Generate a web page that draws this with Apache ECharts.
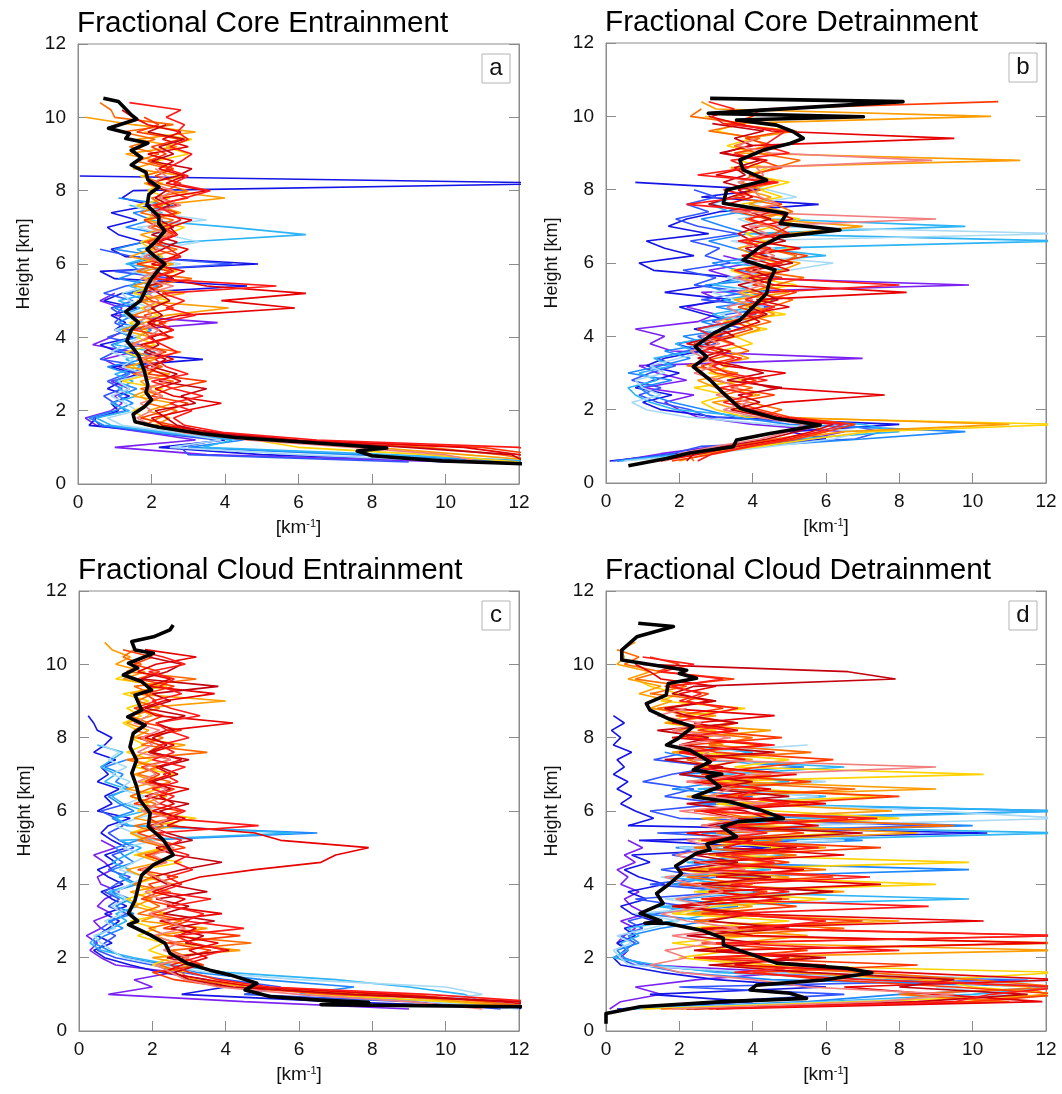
<!DOCTYPE html>
<html><head><meta charset="utf-8">
<script src="https://cdn.jsdelivr.net/npm/echarts/dist/echarts.min.js"></script>
<style>html,body{margin:0;padding:0;background:#fff}#c{width:1062px;height:1094px}</style>
</head><body><div id="c"></div>
<script>
const _ = null;
// shared height levels [km]
const H = [0.4,0.6,0.8,1.0,1.2,1.4,1.6,1.8,2.0,2.2,2.4,
 2.6,2.8,3.0,3.2,3.4,3.6,3.8,4.0,4.2,4.4,4.6,
 4.8,5.0,5.2,5.4,5.6,5.8,6.0,6.2,6.4,6.6,6.8,
 7.0,7.2,7.4,7.6,7.8,8.0,8.2,8.4,8.6,8.8,9.0,
 9.2,9.4,9.6,9.8,10.0,10.2,10.4,10.6,10.8,11.0,11.2];

const colors = ['#7b22f2','#1414e6','#3355ff','#1e88ff','#2db4f5','#a8daf4','#ffd200','#ff9c00','#ff6a00','#ff3a00','#e60000','#c4000e','#f27f7f','#ff1a1a'];

const titles = ['Fractional Core Entrainment','Fractional Core Detrainment','Fractional Cloud Entrainment','Fractional Cloud Detrainment'];
const letters = ['a','b','c','d'];
const xTicks = [0,2,4,6,8,10,12];

// ---------- panel a : core entrainment ----------
const a1=[_,10.2,3.5,1.0,3.2,1.9,0.5,0.2,0.9,1.2,1.0, 1.4,0.9,1.7,1.1,0.7,1.5,0.4,0.9,1.3,3.8,1.0, 1.2,0.6,1.0,_,_,_,_,_,_,_,_, _,_,_,_,_,_,_,_,_,_,_, _,_,_,_,_,_,_,_,_,_,_];
const a2=[_,11.5,5.0,2.2,4.0,2.4,0.3,0.5,1.1,0.9,1.4, 0.8,1.2,1.6,0.9,3.4,1.1,0.6,1.5,1.0,1.3,0.9, 1.6,0.7,1.2,4.6,1.0,0.6,4.9,1.3,0.9,1.8,1.1, 0.8,1.6,0.9,2.0,1.2,1.5,13.5,0.05,_,_,_, _,_,_,_,_,_,_,_,_,_,_];
const a3=[_,9.0,3.0,2.8,3.8,2.0,0.6,0.4,1.3,1.0,0.7, 1.2,0.8,1.3,1.9,0.6,1.0,1.7,0.8,1.4,1.0,1.2, 0.9,1.5,0.7,1.3,2.6,1.0,4.2,1.5,0.6,_,_, _,_,_,_,_,_,_,_,_,_,_, _,_,_,_,_,_,_,_,_,_,_];
const a4=[_,12.5,7.5,3.0,4.5,2.6,0.7,0.3,1.0,1.5,1.1, 1.6,1.0,1.4,0.8,1.8,1.2,0.9,1.6,2.0,1.1,1.5, 1.0,1.9,1.3,2.2,1.1,1.7,1.4,2.3,1.0,1.8,2.4, 1.3,2.0,1.5,2.6,1.1,_,_,_,_,_,_, _,_,_,_,_,_,_,_,_,_,_];
const a5=[_,13.0,8.5,3.4,4.2,2.3,0.9,0.5,1.4,0.9,1.6, 1.1,1.5,1.0,1.7,1.3,2.1,1.0,1.4,1.1,1.8,1.2, 1.7,1.1,2.0,1.4,1.8,2.6,1.3,2.0,1.6,2.9,6.2, 4.2,1.8,2.3,1.4,_,_,_,_,_,_,_, _,_,_,_,_,_,_,_,_,_,_];
const a6=[_,10.8,6.0,2.5,3.9,2.7,1.2,0.8,1.6,1.3,0.9, 1.4,1.1,1.8,1.2,1.5,0.9,1.3,1.7,1.0,1.6,1.3, 2.0,1.4,1.2,1.9,2.2,1.5,2.8,1.7,2.1,3.3,2.4, 1.6,3.5,2.0,1.5,_,_,_,_,_,_,_, _,_,_,_,_,_,_,_,_,_,_];
const a7=[_,12.0,9.5,6.0,4.8,3.0,2.4,1.8,1.5,2.0,1.7, 2.3,1.2,2.0,1.5,1.8,1.3,2.1,1.6,1.9,1.4,2.2, 1.7,2.5,1.5,2.0,1.8,2.7,1.6,2.3,2.0,1.7,2.4, 2.9,1.8,2.2,1.6,2.5,1.9,2.3,1.7,2.6,2.1,3.0, 2.4,3.1,1.8,_,_,_,_,_,_,_,_];
const a8=[_,13.0,10.5,8.0,5.2,3.3,2.1,2.5,1.9,2.6,1.5, 2.0,1.7,2.5,1.3,2.1,1.6,1.4,2.0,1.2,1.8,2.4, 4.1,1.6,2.9,1.5,2.2,1.8,2.6,1.4,2.0,2.3,1.7, 2.5,1.9,2.8,2.1,4.0,2.4,1.8,2.9,1.5,2.2,1.3, 2.7,1.6,3.2,1.5,0.2,_,_,_,_,_,_];
const a9=[_,12.8,11.5,9.5,5.0,3.0,1.8,2.2,2.7,1.9,2.3, 1.7,2.6,1.5,2.3,1.8,2.8,1.4,2.0,1.7,2.4,1.5, 2.1,1.7,2.4,1.9,3.1,1.6,2.2,2.0,2.7,1.8,2.5, 2.0,2.6,1.7,2.3,2.0,3.0,2.2,1.8,2.5,1.6,2.2, 1.4,2.1,1.2,2.6,1.0,0.9,0.6,_,_,_,_];
const a10=[_,13.0,12.5,11.0,5.5,3.4,2.6,1.7,2.4,3.0,2.0, 2.5,3.5,1.9,2.2,1.6,2.4,1.8,2.6,1.5,2.1,1.8, 2.6,2.0,1.7,2.3,1.9,2.5,1.6,2.8,2.1,1.9,2.6, 2.2,1.8,2.7,2.0,3.0,2.4,2.8,2.1,2.6,1.9,2.4, 2.0,2.8,1.6,2.2,1.8,_,_,_,_,_,_];
const a11=[_,13.5,12.0,10.5,6.0,3.8,2.3,2.0,2.9,3.9,2.6, 2.1,2.8,2.3,1.8,2.6,2.0,1.7,2.5,2.2,1.9,2.8, 5.9,3.9,6.2,3.5,2.4,2.9,2.0,2.6,3.0,2.2,2.7, 2.5,3.1,2.0,2.7,2.3,3.5,2.4,2.9,2.2,2.6,1.9, 3.0,2.3,2.8,1.9,1.5,1.2,_,_,_,_,_];
const a12=[_,12.2,11.8,9.0,5.8,3.6,2.7,2.4,2.1,3.2,2.8, 3.5,2.2,2.7,2.0,2.4,1.8,2.2,2.0,2.6,1.9,2.3, 2.0,2.5,2.2,1.9,2.6,2.1,2.4,1.8,2.3,2.7,2.0, 2.6,2.2,2.0,2.5,2.1,2.4,1.9,2.7,3.1,2.0,2.6, 2.2,2.9,1.9,2.4,_,_,_,_,_,_,_];
const a13=[_,11.0,10.0,7.5,4.6,2.9,2.0,1.6,2.0,1.7,2.3, 1.9,2.4,1.6,2.1,1.7,2.3,1.5,1.9,2.2,1.6,2.0, 1.8,2.2,1.9,2.6,1.7,2.1,2.4,1.8,2.2,2.0,2.5, 1.9,2.3,2.0,2.8,2.2,2.6,2.0,2.4,2.1,_,_, _,_,_,_,_,_,_,_,_,_,_];
const a14=[_,13.5,12.8,12.0,6.5,4.0,2.9,2.6,3.1,2.5,3.4, 2.6,2.0,3.0,2.4,2.1,2.7,2.3,1.9,2.6,2.2,3.2, 2.4,2.9,2.3,5.4,2.0,2.6,2.2,2.8,2.5,2.1,2.7, 2.3,2.8,2.5,2.1,2.9,3.6,2.6,3.0,2.4,2.8,3.1, 2.5,3.0,2.7,2.9,2.4,2.8,1.4,_,_,_,_];
const aMean=[[12.2,0.55],[9.9,0.63],[8.0,0.77],[7.6,0.9],[8.4,0.98],[6.2,1.14],[4.3,1.27],[3.4,1.37],[2.2,1.55],[1.55,1.7],[1.5,1.9],[1.8,2.1],[2.0,2.3],[1.85,2.5],[1.9,2.7],[1.8,3.1],[1.65,3.5],[1.5,3.7],[1.33,3.9],[1.45,4.2],[1.65,4.4],[1.3,4.7],[1.5,4.85],[1.7,5.0],[1.8,5.2],[1.88,5.4],[2.0,5.6],[2.2,5.85],[2.36,6.0],[2.1,6.2],[1.88,6.4],[2.1,6.6],[2.36,6.9],[2.2,7.1],[2.2,7.3],[1.88,7.6],[1.93,7.9],[2.2,8.1],[1.9,8.3],[1.85,8.5],[1.45,8.7],[1.73,8.9],[1.45,9.1],[1.9,9.3],[1.3,9.42],[1.4,9.56],[0.83,9.7],[1.6,9.95],[1.46,10.06],[1.1,10.43],[0.69,10.52]];

// ---------- panel b : core detrainment ----------
const b1=[_,0.3,1.5,3.0,5.5,6.5,4.0,2.5,2.0,1.6,2.4, 1.0,2.2,1.4,0.9,7.0,1.8,1.2,1.6,0.8,2.5,3.0, 2.2,3.1,2.6,9.9,3.5,2.8,4.0,3.2,_,_,_, _,_,_,_,_,_,_,_,_,_,_, _,_,_,_,_,_,_,_,_,_,_];
const b2=[_,0.1,2.0,3.5,6.0,5.0,8.0,3.0,1.5,1.0,1.8, 0.8,1.3,2.0,1.1,1.6,2.6,1.9,3.2,2.4,3.5,2.7, 2.0,3.4,1.6,2.9,3.6,1.3,0.9,2.4,1.6,1.1,2.8, 1.7,2.2,3.1,5.8,2.6,4.3,0.8,_,_,_,_, _,_,_,_,_,_,_,_,_,_,_];
const b3=[_,0.2,1.8,2.6,6.8,7.5,6.5,2.8,2.3,1.4,0.9, 1.5,0.7,1.2,1.9,1.4,2.2,3.0,2.5,3.8,2.9,3.3, 4.5,2.6,3.9,2.4,3.0,2.1,3.4,2.7,3.1,2.3,3.6, 2.5,1.9,2.8,2.2,3.0,2.4,_,_,_,_,_, _,_,_,_,_,_,_,_,_,_,_];
const b4=[_,0.3,2.5,4.0,7.0,9.8,5.0,3.5,2.7,1.8,1.2, 0.9,1.8,0.6,1.5,2.3,1.6,2.8,2.1,3.4,2.6,4.1, 3.0,4.6,3.3,2.7,4.8,3.6,2.9,4.4,3.5,2.8,3.9, 3.2,2.6,3.7,2.9,_,_,_,_,_,_,_, _,_,_,_,_,_,_,_,_,_,_];
const b5=[_,0.4,2.2,3.2,5.2,8.0,7.0,4.0,1.9,1.2,0.8, 0.6,1.4,0.9,1.8,1.3,2.4,1.9,3.0,2.5,3.6,2.9, 4.0,3.2,4.5,2.9,3.8,4.9,3.4,6.0,4.2,12.5,3.8, 9.8,4.5,3.4,2.8,3.6,_,_,_,_,_,_, _,_,_,_,_,_,_,_,_,_,_];
const b6=[_,0.5,2.8,4.5,6.2,7.0,4.5,2.2,1.1,0.7,1.5, 1.0,0.8,1.6,1.2,2.0,2.8,2.2,3.3,2.7,3.9,3.1, 4.3,3.5,2.9,4.1,3.3,5.0,6.2,3.8,4.6,3.4,12.5, 4.2,3.6,4.8,3.9,5.2,4.4,3.6,4.0,_,_,_, _,_,_,_,_,_,_,_,_,_,_];
const b7=[_,1.2,2.5,4.2,5.6,7.2,12.5,3.8,3.0,2.6,3.3, 2.4,3.8,2.8,3.4,2.6,3.1,4.0,3.5,4.4,3.2,4.9, 3.8,4.5,3.6,5.2,4.0,3.4,4.7,3.9,5.1,4.3,3.8, 4.6,5.3,4.1,3.7,4.8,4.2,5.0,3.9,4.4,3.6,4.1, 3.3,4.0,3.0,3.6,2.7,_,_,_,_,_,_];
const b8=[_,2.0,2.8,3.8,5.0,6.5,11.0,4.5,3.6,2.9,4.2, 3.0,2.5,3.5,2.8,3.9,3.3,2.7,3.6,4.2,3.8,4.6, 4.1,3.5,5.0,4.3,3.7,4.8,5.3,4.1,3.6,4.4,5.0, 7.0,4.3,4.9,3.9,4.5,3.8,4.7,4.1,3.4,11.3,3.6, 4.4,3.9,5.2,3.2,10.5,3.0,2.6,_,_,_,_];
const b9=[_,2.4,2.2,3.4,4.6,6.0,5.5,4.2,4.8,3.9,3.2, 4.0,2.9,3.6,2.2,3.0,3.9,3.4,2.8,3.7,4.5,3.8, 4.5,5.1,3.9,4.6,5.4,4.0,4.8,5.2,4.3,3.8,4.9, 4.4,3.8,5.1,4.6,3.5,4.2,3.7,4.0,4.6,5.3,4.1, 3.5,4.2,2.8,3.8,2.3,2.6,_,_,_,_,_];
const b10=[_,1.8,3.0,4.0,5.2,6.0,6.8,5.0,4.2,3.5,4.6, 3.4,4.1,3.0,2.6,3.5,3.0,2.4,3.3,4.0,3.5,4.3, 3.6,4.4,5.2,4.0,4.8,3.8,4.6,5.5,4.2,3.9,4.6, 5.0,4.4,3.6,4.8,4.1,3.2,4.4,3.9,4.8,4.2,3.5, 4.6,3.8,4.9,3.4,4.0,4.2,10.7,_,_,_,_];
const b11=[_,1.5,2.6,3.6,4.8,5.6,6.2,4.6,3.9,4.8,7.6, 4.5,3.7,4.9,3.2,2.8,3.4,2.2,3.0,3.6,4.2,3.8, 5.0,4.1,8.2,4.6,3.9,5.0,4.4,3.7,5.3,4.0,3.6, 4.2,5.1,4.6,3.3,4.0,3.6,4.5,3.0,3.8,4.4,3.2, 3.9,9.5,4.5,3.6,2.8,_,_,_,_,_,_];
const b12=[_,2.2,2.4,3.2,4.4,5.2,5.8,4.4,3.4,4.2,3.6, 4.8,3.3,4.3,3.6,2.5,3.2,2.7,3.5,3.1,3.8,4.4, 3.9,4.7,4.2,3.6,4.5,4.0,5.1,4.3,3.8,4.9,4.2, 3.7,4.5,3.9,2.8,3.4,4.0,3.2,3.8,3.5,4.2,3.1, 4.0,3.5,4.3,2.9,_,_,_,_,_,_,_];
const b13=[_,1.6,2.0,3.0,4.2,5.0,5.4,4.1,3.2,3.9,3.0, 3.6,3.1,2.4,3.0,2.7,2.3,3.1,2.6,3.3,3.0,3.7, 3.3,4.0,3.6,4.3,3.5,4.2,3.9,4.6,4.1,3.7,4.4, 3.9,9.0,3.4,4.7,4.2,4.0,3.6,4.3,4.1,8.9,4.5, 3.6,4.1,_,_,_,_,_,_,_,_,_];
const b14=[_,2.5,2.9,3.9,5.0,5.8,6.5,4.8,4.0,3.2,4.0, 3.1,4.4,3.3,2.9,3.7,2.6,3.5,2.9,2.5,3.4,4.0, 4.6,3.8,4.4,8.0,4.2,3.5,4.8,4.0,4.5,3.6,5.0, 4.6,3.9,4.5,2.2,3.8,3.3,4.7,2.5,3.9,3.4,5.0, 4.3,4.6,4.9,3.2,2.9,3.5,2.8,_,_,_,_];
const bMean=[[0.61,0.47],[1.65,0.67],[2.29,0.82],[3.47,0.99],[3.56,1.17],[4.47,1.35],[5.84,1.58],[4.65,1.76],[3.65,2.04],[3.2,2.45],[2.84,2.81],[2.6,3.0],[2.38,3.17],[2.75,3.44],[2.43,3.72],[2.93,4.08],[3.65,4.44],[4.02,4.81],[4.38,5.17],[4.47,5.54],[4.61,5.81],[3.74,6.08],[4.2,6.44],[4.75,6.72],[6.38,6.9],[4.75,7.08],[4.93,7.35],[3.2,7.63],[3.29,7.99],[4.38,8.26],[3.74,8.54],[3.65,8.81],[4.29,9.08],[5.02,9.26],[5.38,9.4],[5.11,9.58],[4.65,9.76],[3.56,9.9],[7.02,9.99],[2.79,10.08],[8.1,10.4],[2.84,10.49]];

// ---------- panel c : cloud entrainment ----------
const c1=[_,9.0,4.5,0.8,2.0,1.5,2.6,1.0,0.6,0.3,0.5, 0.2,0.6,0.4,0.9,0.5,0.7,1.1,0.6,0.5,0.9,0.7, 0.4,1.0,0.6,_,_,_,_,_,_,_,_, _,_,_,_,_,_,_,_,_,_,_, _,_,_,_,_,_,_,_,_,_,_];
const c2=[_,12.5,7.0,2.8,4.0,3.5,2.2,1.4,0.7,0.4,0.9, 0.5,0.8,1.1,0.7,1.3,0.9,0.6,1.2,0.8,0.5,1.0, 0.7,1.3,0.9,0.6,0.8,1.4,0.5,0.9,0.7,1.1,0.5, 0.8,0.6,1.0,0.4,0.7,0.9,0.5,0.4,0.25,_,_, _,_,_,_,_,_,_,_,_,_,_];
const c3=[_,11.5,9.0,4.5,5.5,4.0,2.8,2.0,1.0,0.5,0.7, 1.0,0.6,0.9,1.3,0.8,1.1,0.7,1.0,1.4,0.8,1.2, 0.9,1.5,1.1,0.8,1.2,1.0,0.6,1.3,_,_,_, _,_,_,_,_,_,_,_,_,_,_, _,_,_,_,_,_,_,_,_,_,_];
const c4=[_,13.0,10.0,6.0,7.5,5.0,3.2,2.4,1.3,0.8,0.4, 0.7,1.2,0.8,1.5,1.0,1.4,0.9,1.6,1.2,0.9,1.5, 1.2,1.0,1.6,6.5,1.3,0.9,1.5,1.1,0.8,1.4,1.0, 1.2,0.7,1.3,_,_,_,_,_,_,_,_, _,_,_,_,_,_,_,_,_,_,_];
const c5=[_,13.0,11.0,10.5,9.0,7.0,4.0,2.6,1.5,0.6,0.3, 0.5,0.9,1.3,1.0,1.6,1.2,0.8,1.5,1.1,1.4,0.9, 1.3,1.7,1.1,5.9,1.4,1.0,1.8,1.2,0.9,1.3,0.7, 1.0,0.6,0.9,1.2,0.5,_,_,_,_,_,_, _,_,_,_,_,_,_,_,_,_,_];
const c6=[_,12.0,9.5,11.0,10.0,6.0,3.5,2.2,1.2,0.9,0.6, 0.4,1.0,0.7,1.2,0.9,1.3,1.0,1.4,1.8,1.1,1.5, 1.9,1.2,2.1,1.5,1.0,1.6,2.3,1.3,1.8,1.1,1.4, 0.9,1.3,0.8,1.1,0.6,_,_,_,_,_,_, _,_,_,_,_,_,_,_,_,_,_];
const c7=[_,13.0,10.0,6.5,5.0,3.8,3.0,2.0,2.5,1.9,2.3, 1.6,2.1,1.4,2.4,1.8,1.3,2.0,1.5,2.2,1.7,2.8, 1.5,2.3,1.8,1.4,2.0,3.2,1.6,1.9,1.4,2.2,1.7, 2.6,1.5,2.0,1.3,1.8,1.4,1.6,1.2,1.7,1.3,1.9, 1.2,2.4,1.0,1.5,_,_,_,_,_,_,_];
const c8=[_,12.8,10.5,8.0,4.5,3.2,2.4,3.0,2.0,4.4,2.6, 2.1,3.5,1.7,2.3,1.5,2.0,1.4,2.6,1.8,1.3,2.2, 1.6,2.5,1.9,1.4,2.7,1.5,2.0,1.7,2.4,1.3,2.1, 1.5,2.3,1.4,1.8,2.9,1.5,1.9,1.3,2.0,1.6,4.0, 1.4,2.2,1.2,1.8,1.0,1.4,0.9,0.7,_,_,_];
const c9=[_,13.0,11.0,9.0,5.0,3.0,2.8,2.2,3.0,2.5,4.7, 2.4,1.9,2.8,1.6,2.2,1.8,2.5,1.5,2.0,1.7,2.3, 1.9,2.4,1.6,2.2,1.5,2.6,1.8,2.1,1.4,1.9,2.5, 1.6,2.1,1.3,3.5,1.7,2.3,1.5,1.9,1.4,2.2,1.6, 2.0,1.5,3.2,1.3,1.7,1.2,1.5,_,_,_,_];
const c10=[_,13.5,12.0,7.0,4.0,2.6,2.0,3.4,2.8,3.6,2.4, 4.4,2.3,3.0,2.0,2.6,1.7,2.2,1.9,2.7,1.6,2.4, 1.8,2.9,2.2,1.6,2.3,1.9,2.8,1.5,2.1,2.6,1.8, 2.2,1.7,2.5,1.9,2.2,1.6,2.8,1.8,2.3,1.5,2.1, 1.8,2.6,1.6,2.2,1.5,2.0,1.2,_,_,_,_];
const c11=[_,13.5,11.5,8.5,4.8,3.5,2.3,2.8,3.5,3.0,3.8, 2.7,3.2,2.2,3.9,2.4,2.9,2.0,2.6,3.3,4.8,6.6, 7.0,7.9,5.5,4.8,2.4,2.9,2.0,2.6,2.2,3.0,1.9, 2.5,2.1,2.8,2.0,2.6,1.8,2.4,4.2,2.1,1.7,2.3, 3.7,1.9,2.5,1.6,2.1,3.2,1.8,_,_,_,_];
const c12=[_,12.5,12.0,7.5,4.2,3.0,2.6,3.3,2.4,4.1,2.9, 3.4,2.5,3.7,2.3,3.0,2.1,3.5,2.4,2.0,2.8,3.9, 2.6,2.1,3.1,2.4,1.9,2.7,2.2,3.0,1.8,2.5,2.0, 2.7,2.2,3.0,1.9,2.4,2.0,2.6,2.1,2.9,1.8,2.5, 2.0,3.8,1.7,2.4,2.8,1.9,_,_,_,_,_];
const c13=[_,11.0,9.0,6.0,3.8,2.9,2.5,2.1,3.0,2.3,2.7, 2.0,2.9,2.4,1.9,2.6,2.2,1.8,2.5,2.1,1.7,2.4, 2.0,2.6,1.8,2.3,2.0,2.5,1.7,2.2,1.9,2.4,1.6, 2.1,1.8,2.5,1.6,2.0,1.7,2.2,1.5,1.9,_,_, _,_,_,_,_,_,_,_,_,_,_];
const c14=[_,13.5,12.5,9.5,5.2,3.8,3.0,2.5,3.2,4.0,3.1, 2.6,4.5,2.9,3.4,2.5,3.6,2.2,2.8,2.4,3.1,2.6, 3.0,2.3,2.8,2.1,4.9,2.4,2.9,2.2,2.6,2.0,2.7, 2.3,2.9,2.0,2.6,2.2,3.0,2.4,2.1,3.3,2.5,2.0, 2.8,2.2,2.6,1.9,2.9,2.3,1.5,_,_,_,_];
const cMean=[[12.2,0.66],[6.6,0.72],[7.9,0.78],[6.48,0.85],[5.21,0.94],[4.53,1.12],[4.85,1.3],[4.12,1.53],[3.57,1.66],[2.94,1.85],[2.48,2.12],[2.35,2.39],[1.94,2.62],[1.35,2.9],[1.6,3.0],[1.35,3.21],[1.53,3.57],[1.62,3.94],[1.71,4.25],[2.03,4.53],[2.57,4.8],[2.3,5.21],[1.89,5.57],[1.94,5.94],[1.66,6.3],[1.57,6.67],[1.44,7.03],[1.57,7.39],[1.39,7.75],[1.48,8.12],[1.8,8.34],[1.33,8.57],[1.71,8.75],[1.53,9.16],[1.98,9.3],[1.71,9.53],[1.21,9.71],[1.6,9.9],[1.35,10.03],[2.03,10.3],[1.53,10.39],[1.44,10.62],[2.03,10.75],[2.48,10.94],[2.57,11.07]];

// ---------- panel d : cloud detrainment ----------
const d1=[_,0.1,0.4,1.5,0.8,2.5,5.0,1.2,0.4,0.6,0.3, 0.5,0.8,0.4,1.1,0.7,0.5,0.9,0.4,0.6,0.3,0.8, 0.5,1.0,0.6,_,_,_,_,_,_,_,_, _,_,_,_,_,_,_,_,_,_,_, _,_,_,_,_,_,_,_,_,_,_];
const d2=[_,0.3,4.0,1.2,6.0,3.0,1.5,0.4,0.2,0.6,0.3, 0.8,0.5,1.3,0.7,0.4,1.1,0.6,1.6,0.9,0.5,1.2, 0.7,4.5,0.9,10.4,0.6,1.3,0.8,0.4,0.7,0.3,0.6, 0.2,0.5,0.3,0.7,0.2,0.4,0.15,0.5,0.2,_,_, _,_,_,_,_,_,_,_,_,_,_];
const d3=[_,0.4,3.0,6.5,2.0,11.5,3.5,0.8,0.3,0.5,0.8, 0.4,1.0,0.6,1.4,2.2,0.8,3.5,1.2,2.8,1.5,3.0, 1.8,2.5,5.2,1.4,9.0,2.0,1.2,3.2,1.6,2.4,1.0, 1.8,3.0,1.3,2.2,_,_,_,_,_,_,_, _,_,_,_,_,_,_,_,_,_,_];
const d4=[_,0.5,5.5,8.0,12.5,4.5,2.0,1.0,0.5,0.3,0.9, 0.6,1.5,2.8,1.0,3.6,2.0,4.2,1.8,3.0,9.9,2.4, 3.8,1.9,7.0,2.6,10.0,3.4,12.5,2.5,4.0,1.8,3.2, 2.0,5.4,2.6,1.6,_,_,_,_,_,_,_, _,_,_,_,_,_,_,_,_,_,_];
const d5=[_,0.6,6.0,10.0,12.5,7.5,3.0,1.4,0.2,0.6,0.4, 0.9,0.6,1.8,3.0,1.4,9.9,2.5,3.4,1.7,4.5,2.2, 5.0,2.8,4.2,12.5,3.0,5.5,12.5,3.6,6.0,2.5,5.0, 3.2,6.5,2.4,4.0,2.0,_,_,_,_,_,_, _,_,_,_,_,_,_,_,_,_,_];
const d6=[_,0.8,6.5,11.0,9.0,12.5,4.0,0.6,0.4,0.2,0.7, 0.3,1.2,2.0,0.8,3.2,1.6,4.0,2.4,1.5,3.6,2.8, 4.4,2.0,6.5,3.0,5.2,12.5,9.0,4.0,5.8,3.2,6.0, 2.8,4.4,3.6,2.5,5.5,_,_,_,_,_,_, _,_,_,_,_,_,_,_,_,_,_];
const d7=[_,1.0,7.0,12.5,10.0,9.0,12.5,4.0,2.0,3.5,1.8, 4.0,2.2,5.0,1.8,3.0,6.0,2.4,9.0,3.5,2.0,9.9, 3.0,4.8,2.5,6.5,3.4,8.0,4.6,3.0,7.5,4.0,2.6, 10.3,3.5,5.0,2.4,4.2,2.0,3.0,1.6,2.2,3.8,1.5, 2.0,1.2,0.8,_,_,_,_,_,_,_,_];
const d8=[_,2.0,9.8,12.0,11.5,8.5,5.0,4.5,2.5,12.5,3.5, 5.5,2.8,8.0,2.2,4.0,2.6,6.5,3.0,5.0,2.4,4.4, 2.8,6.0,3.5,8.5,4.2,2.6,7.8,3.8,2.2,9.0,3.4, 5.0,2.6,4.0,1.8,3.2,2.4,4.5,1.6,3.0,1.2,1.8, 0.9,1.5,0.6,1.2,0.3,0.5,0.4,0.8,_,_,_];
const d9=[_,1.5,11.0,8.0,12.5,10.0,7.0,3.0,5.5,2.5,12.5, 3.0,6.5,2.4,4.2,1.8,5.0,2.8,4.0,2.2,6.0,3.0, 5.2,2.4,4.8,3.0,9.5,4.0,2.8,5.5,3.2,6.8,2.6, 4.5,3.0,2.2,5.6,2.8,4.0,1.8,3.5,2.2,1.4,3.0, 1.2,2.2,0.8,1.5,0.5,0.9,0.3,_,_,_,_];
const d10=[_,2.4,10.0,12.5,9.5,6.0,4.0,8.5,3.0,5.5,2.6, 12.5,3.2,7.0,2.6,5.2,3.0,4.4,2.0,6.2,2.8,5.0, 3.4,7.5,2.8,5.4,3.6,6.6,2.4,4.6,8.0,3.0,5.6, 2.6,4.2,6.2,3.0,2.2,4.8,2.5,3.6,1.9,3.2,2.2, 2.8,1.6,3.5,1.4,2.0,1.2,_,_,_,_,_];
const d11=[_,3.0,11.9,9.0,6.5,12.5,8.0,3.5,5.0,3.0,12.0, 4.0,2.6,10.3,3.4,2.0,4.8,2.8,7.5,3.0,5.4,2.4, 6.5,3.2,4.0,2.2,5.8,3.6,2.6,6.0,3.0,4.5,2.2, 5.2,2.8,3.8,2.0,4.4,1.8,3.6,2.4,4.6,1.6,2.8, 2.0,3.0,1.5,1.2,0.8,_,_,_,_,_,_];
const d12=[_,2.2,8.5,11.5,8.0,9.5,5.5,2.8,6.0,2.4,4.2, 2.2,5.0,2.8,4.0,1.8,3.4,6.2,2.6,4.5,2.0,3.6, 2.4,5.2,3.0,7.0,2.6,4.4,3.8,2.2,5.0,2.8,4.0, 2.0,3.2,1.6,4.6,2.0,2.8,1.4,3.6,2.2,1.6,3.0, 1.8,2.4,7.9,6.6,1.0,_,_,_,_,_,_];
const d13=[_,1.8,7.5,9.5,5.5,4.0,2.0,1.2,2.2,1.6,3.0, 1.8,3.6,2.2,1.5,2.8,1.9,3.2,2.4,1.6,3.8,2.6, 1.9,3.0,2.2,4.2,2.6,3.6,2.0,4.4,2.8,3.4,2.2, 4.0,9.0,2.4,2.8,2.0,3.4,1.8,2.6,1.4,2.2,_, _,_,_,_,_,_,_,_,_,_,_];
const d14=[_,2.8,9.5,10.5,12.5,7.0,3.5,6.0,2.4,8.0,3.0, 12.5,4.0,6.0,3.2,8.8,2.6,5.0,3.4,7.2,2.8,4.6, 3.0,5.8,2.6,4.4,3.2,7.4,2.6,5.0,3.6,4.2,2.8, 3.8,2.4,3.0,2.0,4.6,2.2,3.4,1.8,2.6,3.6,2.0, 2.6,1.8,3.2,1.5,2.4,1.0,_,_,_,_,_];
const dMean=[[0,0.2],[0,0.48],[0.93,0.66],[3.2,0.8],[5.47,0.89],[5.02,1.03],[3.93,1.12],[4.1,1.25],[5.93,1.39],[7.25,1.59],[6.56,1.71],[4.65,1.85],[4.02,2.07],[3.2,2.35],[3.2,2.53],[2.6,2.75],[1.65,2.94],[1.06,2.94],[1.5,3.0],[0.93,3.21],[1.56,3.48],[1.38,3.75],[1.75,4.03],[2.06,4.3],[1.9,4.5],[2.47,4.85],[2.84,4.94],[2.75,5.1],[3.56,5.3],[3.16,5.57],[3.61,5.71],[4.84,5.8],[4.2,6.03],[3.38,6.25],[2.38,6.39],[3.11,6.66],[2.75,6.93],[3.16,7.0],[2.38,7.12],[2.84,7.34],[2.29,7.66],[1.65,7.8],[1.97,7.98],[2.38,8.3],[1.74,8.5],[1.2,8.75],[1.1,8.93],[1.64,9.16],[1.7,9.48],[2.47,9.62],[2.0,9.75],[2.2,9.84],[0.43,10.12],[0.43,10.39],[0.84,10.75],[1.84,11.03],[0.88,11.12]];

const panels = [
  {lines:[a1,a2,a3,a4,a5,a6,a7,a8,a9,a10,a11,a12,a13,a14], mean:aMean},
  {lines:[b1,b2,b3,b4,b5,b6,b7,b8,b9,b10,b11,b12,b13,b14], mean:bMean},
  {lines:[c1,c2,c3,c4,c5,c6,c7,c8,c9,c10,c11,c12,c13,c14], mean:cMean},
  {lines:[d1,d2,d3,d4,d5,d6,d7,d8,d9,d10,d11,d12,d13,d14], mean:dMean}
];
panels.forEach((p,pi)=>p.lines.forEach((l,li)=>{ if(l.length!==H.length) throw new Error('bad length panel '+pi+' line '+(li+1)+': '+l.length); }));

// ---------- layout / style ----------
const FONT = '"Liberation Sans", Arial, Helvetica, sans-serif';
const AX = '#8c8c8c';
const gridBoxes = [
  {left:78, top:44, width:441, height:440},
  {left:606, top:43, width:440, height:440},
  {left:79, top:591, width:440, height:440},
  {left:606, top:591, width:440, height:440}
];

const option = {
  animation:false,
  backgroundColor:'#fff',
  textStyle:{fontFamily:FONT},
  title: gridBoxes.map((g,i)=>({
    text:titles[i], left:g.left-1, top:g.top-35, padding:0,
    textStyle:{fontSize:29.7, fontWeight:'normal', color:'#000', fontFamily:FONT}
  })),
  grid: gridBoxes.map(g=>Object.assign({show:true, borderColor:AX, borderWidth:1, backgroundColor:'rgba(0,0,0,0)', containLabel:false}, g)),
  xAxis: gridBoxes.map((g,i)=>({
    gridIndex:i, type:'value', min:xTicks[0], max:xTicks[xTicks.length-1], interval:2,
    axisLine:{show:true, onZero:false, lineStyle:{color:AX, width:1}},
    axisTick:{show:true, inside:true, length:10, lineStyle:{color:AX}},
    axisLabel:{fontSize:19, color:'#111', margin:9, fontFamily:FONT},
    splitLine:{show:false},
    name:'{a|[km}{s|-1}{a|]}', nameLocation:'middle', nameGap:34,
    nameTextStyle:{fontFamily:FONT, rich:{a:{fontSize:19, color:'#111', fontFamily:FONT}, s:{fontSize:11, color:'#111', fontFamily:FONT, padding:[0,0,9,0]}}}
  })),
  yAxis: [].concat(...gridBoxes.map((g,i)=>[
    {gridIndex:i, type:'value', min:0, max:12, interval:2, position:'left',
     axisLine:{show:true, onZero:false, lineStyle:{color:AX, width:1}},
     axisTick:{show:true, inside:true, length:10, lineStyle:{color:AX}},
     axisLabel:{fontSize:19, color:'#111', margin:12, fontFamily:FONT},
     splitLine:{show:false},
     name:'Height [km]', nameLocation:'middle', nameRotate:90, nameGap:45,
     nameTextStyle:{fontSize:18, color:'#111', fontFamily:FONT}},
    {gridIndex:i, type:'value', min:0, max:12, interval:2, position:'right',
     axisLine:{show:true, onZero:false, lineStyle:{color:AX, width:1}},
     axisTick:{show:true, inside:true, length:10, lineStyle:{color:AX}},
     axisLabel:{show:false}, splitLine:{show:false}}
  ])),
  graphic: [].concat(...gridBoxes.map((g,i)=>{
    const bx = g.left+g.width-37, by = g.top+10;
    return [
      {type:'rect', z:100, shape:{x:bx, y:by, width:28, height:29}, style:{fill:'#fff', stroke:'#b4b4b4', lineWidth:1}},
      {type:'text', z:101, x:bx+14, y:by+14, style:{text:letters[i], font:'24px '+FONT, textAlign:'center', textVerticalAlign:'middle', verticalAlign:'middle', fill:'#111'}}
    ];
  })),
  series: []
};

panels.forEach((p,pi)=>{
  p.lines.forEach((l,li)=>{
    const data = [];
    l.forEach((x,k)=>{ if(x!==null) data.push([x, H[k]]); });
    option.series.push({
      type:'line', xAxisIndex:pi, yAxisIndex:pi*2, data:data, symbol:'none', showSymbol:false,
      silent:true, clip:true, z:2,
      lineStyle:{color:colors[li], width:1.6}
    });
  });
  option.series.push({
    type:'line', xAxisIndex:pi, yAxisIndex:pi*2, data:p.mean, symbol:'none', showSymbol:false,
    silent:true, clip:true, z:3,
    lineStyle:{color:'#000', width:3.6, join:'round'}
  });
});

const chart = echarts.init(document.getElementById('c'), null, {renderer:'canvas'});
chart.setOption(option);
</script>
</body></html>
